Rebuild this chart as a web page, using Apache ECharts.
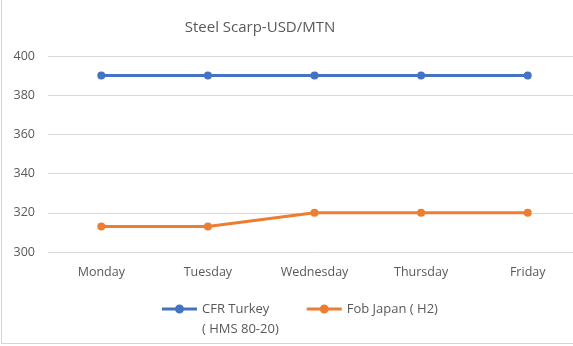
<!DOCTYPE html>
<html>
<head>
<meta charset="utf-8">
<script src="https://cdn.jsdelivr.net/npm/echarts@6/dist/echarts.min.js"></script>
<style>
  html, body { margin: 0; padding: 0; background: #fff; }
  #frame { position: relative; width: 573px; height: 346px; overflow: hidden; }
  /* the plot area runs a little past the right edge of the frame */
  #chart { position: absolute; left: 0; top: 0; width: 585px; height: 346px; }
  #edgeL { position: absolute; left: 1px; top: 0; width: 1px; height: 344px; background: #d4d4d4; }
  #edgeB { position: absolute; left: 1px; top: 343px; width: 572px; height: 1px; background: #d4d4d4; }
</style>
</head>
<body>
<div id="frame">
  <div id="chart"></div>
  <div id="edgeL"></div>
  <div id="edgeB"></div>
</div>
<script>
// Weekly steel scrap prices, USD per metric tonne
const days = ['Monday', 'Tuesday', 'Wednesday', 'Thursday', 'Friday'];
const cfrTurkey = [390, 390, 390, 390, 390];
const fobJapan = [313, 313, 320, 320, 320];
const seriesNames = ['CFR Turkey\n( HMS 80-20)', 'Fob Japan ( H2)'];
const yTicks = { min: 300, max: 400, step: 20 };

const FONT = '"Open Sans", sans-serif';
const GREY = '#595959';

const chart = echarts.init(document.getElementById('chart'), null, { renderer: 'canvas' });

function lineSeries(name, data, color) {
  return {
    name: name,
    type: 'line',
    data: data,
    symbol: 'circle',
    symbolSize: 8,
    lineStyle: { color: color, width: 3 },
    itemStyle: { color: color },
    emphasis: { disabled: true },
    animation: false
  };
}

// legend key: short stroke with a dot in the middle
const keyIcon = 'path://M0,3.5 L35,3.5 L35,6.5 L0,6.5 Z M13,5 A4.5,4.5 0 1,1 22,5 A4.5,4.5 0 1,1 13,5 Z';

chart.setOption({
  backgroundColor: '#ffffff',
  animation: false,
  title: {
    text: 'Steel Scarp-USD/MTN',
    left: 255,
    top: 15,
    textAlign: 'center',
    textStyle: { fontFamily: FONT, fontSize: 15, fontWeight: 'normal', color: GREY }
  },
  legend: {
    left: 157,
    top: 274,
    itemWidth: 35,
    itemHeight: 9,
    itemGap: 28,
    icon: keyIcon,
    data: seriesNames,
    // two-line names: a blank first line keeps the key level with the first text line
    formatter: function (name) {
      return name.indexOf('\n') >= 0 ? '\n' + name : name;
    },
    textStyle: { fontFamily: FONT, fontSize: 13, color: GREY, lineHeight: 20 },
    selectedMode: false
  },
  grid: { left: 48, top: 56, right: 4, bottom: 94, containLabel: false },
  xAxis: {
    type: 'category',
    data: days,
    boundaryGap: true,
    axisLine: { show: false },
    axisTick: { show: false },
    axisLabel: { fontFamily: FONT, fontSize: 12.5, color: GREY, margin: 14 }
  },
  yAxis: {
    type: 'value',
    min: yTicks.min,
    max: yTicks.max,
    interval: yTicks.step,
    axisLine: { show: false },
    axisTick: { show: false },
    splitLine: { lineStyle: { color: '#d9d9d9', width: 1 } },
    axisLabel: { fontFamily: FONT, fontSize: 12.5, color: GREY, margin: 13 }
  },
  series: [
    lineSeries(seriesNames[0], cfrTurkey, '#4472C4'),
    lineSeries(seriesNames[1], fobJapan, '#ED7D31')
  ]
});
</script>
</body>
</html>
